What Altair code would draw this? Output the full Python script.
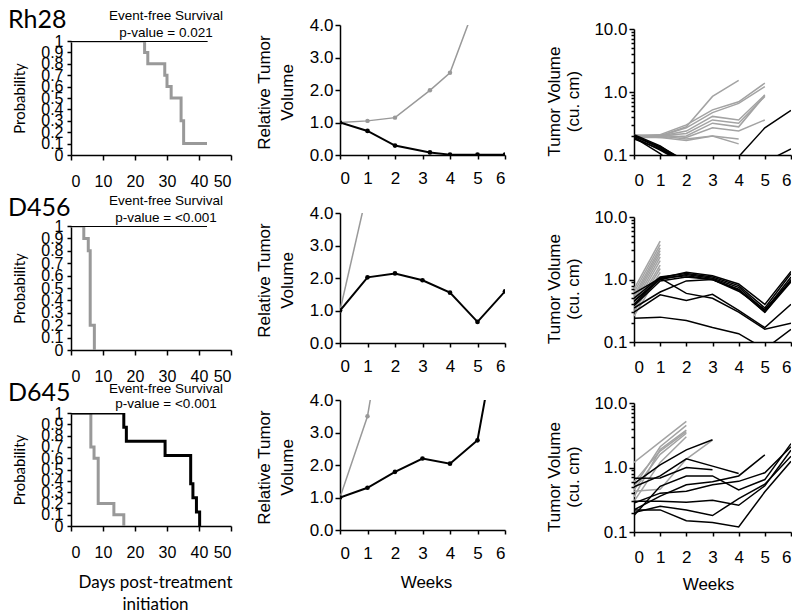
import altair as alt
import pandas as pd

SANS = "Liberation Sans"
HUMAN = "Lato"
GRAY = "#999999"
LGRAY = "#a3a3a3"

MODELS = ["Rh28", "D456", "D645"]
KM_TITLE = "Event-free Survival"
P_VALUES = ["p-value = 0.021", "p-value = <0.001", "p-value = <0.001"]
KM_X_TITLE = ["Days post-treatment", "initiation"]
KM_Y_TITLE = "Probability"
REL_Y_TITLE = ["Relative Tumor", "Volume"]
VOL_Y_TITLE = ["Tumor Volume", "(cu. cm)"]
WEEKS_TITLE = "Weeks"

KM_X_TICKS = [0, 10, 20, 30, 40, 50]
KM_Y_TICKS = [0, 0.1, 0.2, 0.3, 0.4, 0.5, 0.6, 0.7, 0.8, 0.9, 1]
WEEK_TICKS = [0, 1, 2, 3, 4, 5, 6]
REL_Y_TICKS = [0, 1, 2, 3, 4]
VOL_Y_TICKS = [0.1, 0.2, 0.3, 0.4, 0.5, 0.6, 0.7, 0.8, 0.9,
               1, 2, 3, 4, 5, 6, 7, 8, 9, 10]

KM_CTRL_DAYS = [
    [0, 23, 24, 29.3, 30, 31.3, 34.4, 35.2, 42.5],
    [0, 4, 5.4, 6.0, 7.3],
    [0, 6.2, 7.2, 8.5, 13.4, 16.5],
]
KM_CTRL_PROB = [
    [1, 0.9, 0.8, 0.7, 0.6, 0.5, 0.3, 0.1, 0.1],
    [1, 0.9, 0.8, 0.2, 0],
    [1, 0.7, 0.6, 0.2, 0.1, 0],
]
KM_TRT_DAYS = [
    [0, 42.7],
    [0, 42.5],
    [0, 16.5, 17.3, 29.4, 37.4, 38.1, 39.2, 40.2],
]
KM_TRT_PROB = [
    [1, 1],
    [1, 1],
    [1, 0.875, 0.75, 0.625, 0.375, 0.25, 0.125, 0],
]

REL_CTRL_WEEKS = [[0, 1, 2, 3.27, 4, 5], [0, 1], [0, 1, 2]]
REL_CTRL = [[1.0, 1.05, 1.15, 1.99, 2.53, 4.8], [1.0, 4.7], [1.0, 3.5, 8.5]]
REL_TRT_WEEKS = [[0, 1, 2, 3.27, 4, 5, 6], [0, 1, 2, 3, 4, 5, 6], [0, 1, 2, 3, 4, 5, 6]]
REL_TRT = [
    [1.0, 0.74, 0.29, 0.08, 0.01, 0.01, 0.01],
    [1.0, 2.02, 2.14, 1.93, 1.55, 0.65, 1.59],
    [1.0, 1.30, 1.79, 2.20, 2.04, 2.76, 7.4],
]

RH28_CTRL = [
    [0.20, 0.20, 0.28, 0.85, 1.53],
    [0.20, 0.21, 0.30, 0.52, 0.70, 1.38],
    [0.20, 0.20, 0.27, 0.47, 0.66, 1.22],
    [0.21, 0.20, 0.24, 0.41, 0.36, 0.90],
    [0.20, 0.20, 0.22, 0.36, 0.32, 0.85],
    [0.19, 0.19, 0.20, 0.32, 0.28, 0.88],
    [0.20, 0.21, 0.19, 0.27, 0.24, 0.36],
    [0.20, 0.19, 0.17, 0.20, 0.15],
    [0.20, 0.20, 0.18, 0.20, 0.18],
]
RH28_TRT = [
    [0.21, 0.14, 0.075],
    [0.20, 0.13, 0.07],
    [0.20, 0.13, 0.075, 0.05, 0.094, 0.27, 0.51],
    [0.19, 0.12, 0.07, 0.05, 0.05, 0.077, 0.125],
    [0.18, 0.125, 0.07],
    [0.19, 0.105, 0.05],
    [0.20, 0.135, 0.08],
]
D456_CTRL = [
    [0.26, 1.3], [0.30, 1.5], [0.33, 1.7], [0.36, 2.0], [0.40, 2.3],
    [0.45, 2.6], [0.50, 2.9], [0.55, 3.2], [0.62, 3.6], [0.70, 4.1],
]
D456_TRT = [
    [0.60, 1.05, 1.30, 1.15, 0.85, 0.40, 1.35],
    [0.50, 1.10, 1.25, 1.10, 0.80, 0.35, 1.25],
    [0.45, 1.00, 1.20, 1.05, 0.75, 0.32, 1.10],
    [0.40, 1.05, 1.15, 1.00, 0.70, 0.30, 1.00],
    [0.38, 0.95, 1.10, 1.00, 0.68, 0.30, 0.92],
    [0.35, 0.63, 0.95, 1.00, 0.65, 0.33, 0.95],
    [0.45, 1.05, 0.60, 0.50, 0.30, 0.16, 0.20],
    [0.30, 0.57, 0.46, 0.58, 0.32, 0.17, 0.40],
    [0.24, 0.25, 0.22, 0.17, 0.136, 0.077, 0.16],
]
D645_CTRL = [
    [1.2, 2.5, 5.2],
    [0.5, 2.1, 4.5],
    [0.35, 1.9, 3.8],
    [0.45, 1.6, 3.4],
    [0.3, 1.2, 3.0],
    [0.6, 1.8, 3.6],
    [0.43, 0.46, 1.35, 2.65],
]
D645_TRT = [
    [0.56, 1.1, 1.88, 2.7],
    [0.5, 0.74, 1.36, 1.05, 0.81],
    [0.68, 0.69, 1.0, 0.92],
    [0.22, 0.22, 0.15, 0.14, 0.12, 0.42, 1.25],
    [0.2, 0.25, 0.22, 0.18, 0.33, 0.55, 1.5],
    [0.3, 0.3, 0.29, 0.31, 0.26, 0.52, 1.85],
    [0.28, 0.4, 0.43, 0.54, 0.61, 0.83, 2.1],
    [0.18, 0.51, 0.74, 0.74, 0.45, 0.65, 2.35],
    [0.22, 0.36, 0.54, 0.6, 0.74, 1.57],
]
VOL_CTRL = [RH28_CTRL, D456_CTRL, D645_CTRL]
VOL_TRT = [RH28_TRT, D456_TRT, D645_TRT]

KM_HEIGHTS = [114, 124, 113]
KM_W = 160
REL_H = 130
REL_W = 165
VOL_HEIGHTS = [126, 125, 129]
VOL_W = 157
NAME_Y = [-33, -30, -32]
KM_T1_Y = [-21, -21, -20]
KM_T2_Y = [-4, -4, -5]
MANY = 100   # tick count high enough that explicit tick values are never thinned
TICK_FS = 17


def text_layer(txt, x, y, **kw):
    return alt.Chart(pd.DataFrame({"t": [txt]})).mark_text(**kw).encode(
        text="t:N", x=alt.value(x), y=alt.value(y))


def km_panel(i):
    h = KM_HEIGHTS[i]
    ctrl = pd.DataFrame({"day": KM_CTRL_DAYS[i], "prob": KM_CTRL_PROB[i]})
    trt = pd.DataFrame({"day": KM_TRT_DAYS[i], "prob": KM_TRT_PROB[i]})
    xkw = dict(values=KM_X_TICKS, tickCount=MANY, format="d", tickSize=5,
               labelPadding=13, labelFontSize=16, labelOverlap=False)
    if i == 2:
        xkw.update(title=KM_X_TITLE, titleFont=HUMAN, titleFontSize=17,
                   titleFontWeight="normal", titleLineHeight=22,
                   titleBaseline="middle", titleAlign="center",
                   titleX=84, titleY=56)
    else:
        xkw.update(title=None)
    x = alt.X("day:Q", scale=alt.Scale(domain=[0, 50], nice=False),
              axis=alt.Axis(**xkw))
    y = alt.Y("prob:Q", scale=alt.Scale(domain=[0, 1], nice=False),
              axis=alt.Axis(values=KM_Y_TICKS, tickCount=MANY, labelOverlap=False,
                            labelExpr="datum.value == 0 ? '0' : datum.value == 1 ? '1' : format(datum.value, '.1f')",
                            labelFontSize=16, tickSize=4, labelPadding=4,
                            title=KM_Y_TITLE, titleFont=HUMAN, titleFontSize=15,
                            titleFontWeight="normal", titleAngle=270,
                            titleBaseline="middle", titleAlign="center",
                            titleX=-52, titleY=h / 2))
    gray = alt.Chart(ctrl).mark_line(interpolate="step-after", color=GRAY,
                                     strokeWidth=3, clip=True).encode(x=x, y=y)
    black = alt.Chart(trt).mark_line(interpolate="step-after", color="black",
                                      strokeWidth=3 if i == 2 else 2,
                                      clip=True).encode(x="day:Q", y="prob:Q")
    name = text_layer(MODELS[i], -63, NAME_Y[i], align="left", baseline="top",
                      font=HUMAN, fontSize=25)
    t1 = text_layer(KM_TITLE, 95, KM_T1_Y[i], align="center", baseline="alphabetic",
                    font=SANS, fontSize=13.5)
    t2 = text_layer(P_VALUES[i], 95, KM_T2_Y[i], align="center", baseline="alphabetic",
                    font=SANS, fontSize=13.5)
    return alt.layer(gray, black, name, t1, t2).properties(width=KM_W, height=h)


def rel_panel(i):
    ctrl = pd.DataFrame({"week": REL_CTRL_WEEKS[i], "rel": REL_CTRL[i]})
    trt = pd.DataFrame({"week": REL_TRT_WEEKS[i], "rel": REL_TRT[i]})
    xkw = dict(values=WEEK_TICKS, tickCount=MANY, format="d", tickSize=4,
               labelPadding=11, labelFontSize=TICK_FS, labelOverlap=False)
    if i == 2:
        xkw.update(title=WEEKS_TITLE, titleFont=SANS, titleFontSize=17,
                   titleFontWeight="normal", titleBaseline="middle",
                   titleAlign="center", titleX=86, titleY=52)
    else:
        xkw.update(title=None)
    x = alt.X("week:Q", scale=alt.Scale(domain=[0, 6], nice=False),
              axis=alt.Axis(**xkw))
    y = alt.Y("rel:Q", scale=alt.Scale(domain=[0, 4], nice=False),
              axis=alt.Axis(values=REL_Y_TICKS, tickCount=MANY, format=".1f", tickSize=5,
                            labelPadding=2, labelFontSize=TICK_FS, labelOverlap=False,
                            title=REL_Y_TITLE, titleFont=SANS, titleFontSize=17,
                            titleFontWeight="normal", titleAngle=270,
                            titleBaseline="middle", titleAlign="center",
                            titleLineHeight=23, titleX=-76, titleY=REL_H / 2 + 2))
    gl = alt.Chart(ctrl).mark_line(color=GRAY, strokeWidth=1.5, clip=True).encode(x=x, y=y)
    gp = alt.Chart(ctrl).mark_circle(color=GRAY, size=20, opacity=1, clip=True).encode(x="week:Q", y="rel:Q")
    bl = alt.Chart(trt).mark_line(color="black", strokeWidth=2, clip=True).encode(x="week:Q", y="rel:Q")
    bp = alt.Chart(trt).mark_circle(color="black", size=22, opacity=1, clip=True).encode(x="week:Q", y="rel:Q")
    return alt.layer(gl, gp, bl, bp).properties(width=REL_W, height=REL_H)


def long_df(series):
    rows = []
    for j, s in enumerate(series):
        for k, v in enumerate(s):
            rows.append({"id": j, "week": k, "vol": v})
    return pd.DataFrame(rows)


def vol_panel(i):
    h = VOL_HEIGHTS[i]
    major = "datum.value == 0.1 || datum.value == 1 || datum.value == 10"
    xkw = dict(values=WEEK_TICKS, tickCount=MANY, format="d", tickSize=4,
               labelPadding=13, labelFontSize=TICK_FS, labelOverlap=False)
    if i == 2:
        xkw.update(title=WEEKS_TITLE, titleFont=SANS, titleFontSize=17,
                   titleFontWeight="normal", titleBaseline="middle",
                   titleAlign="center", titleX=74, titleY=52)
    else:
        xkw.update(title=None)
    x = alt.X("week:Q", scale=alt.Scale(domain=[0, 6], nice=False),
              axis=alt.Axis(**xkw))
    y = alt.Y("vol:Q", scale=alt.Scale(type="log", domain=[0.1, 10], nice=False),
              axis=alt.Axis(values=VOL_Y_TICKS, tickCount=MANY, labelOverlap=False,
                            labelExpr="(" + major + ") ? format(datum.value, '.1f') : ''",
                            tickSize={"condition": {"test": major, "value": 5}, "value": 3},
                            labelPadding=2, labelFontSize=TICK_FS,
                            title=VOL_Y_TITLE, titleFont=SANS, titleFontSize=17,
                            titleFontWeight="normal", titleAngle=270,
                            titleBaseline="middle", titleAlign="center",
                            titleLineHeight=19, titleX=-80, titleY=h / 2 + 9))
    gl = alt.Chart(long_df(VOL_CTRL[i])).mark_line(color=LGRAY, strokeWidth=1.5, clip=True).encode(
        x=x, y=y, detail="id:N")
    bl = alt.Chart(long_df(VOL_TRT[i])).mark_line(color="black", strokeWidth=1.5, clip=True).encode(
        x="week:Q", y="vol:Q", detail="id:N")
    return alt.layer(gl, bl).properties(width=VOL_W, height=h)


def spacer(w, h):
    return alt.Chart(pd.DataFrame({"s": [0]})).mark_point(opacity=0).encode(
        x=alt.value(0), y=alt.value(0)).properties(width=w, height=h)


col_km = alt.vconcat(spacer(KM_W, 16), km_panel(0), spacer(KM_W, 71), km_panel(1),
                     spacer(KM_W, 63), km_panel(2), spacing=0, bounds="flush")
col_rel = alt.vconcat(rel_panel(0), spacer(REL_W, 58), rel_panel(1),
                      spacer(REL_W, 57), rel_panel(2), spacing=0, bounds="flush")
col_vol = alt.vconcat(spacer(VOL_W, 4), vol_panel(0), spacer(VOL_W, 62), vol_panel(1),
                      spacer(VOL_W, 61), vol_panel(2), spacing=0, bounds="flush")

# nested columns count as zero-width cells in a flush layout, so the
# spacer columns carry the column width plus the gap
chart = alt.hconcat(col_km, spacer(KM_W + 109, 1), col_rel, spacer(REL_W + 129, 1), col_vol,
                    spacing=0, bounds="flush").properties(padding=0).configure_view(
    stroke=None).configure_axis(
    grid=False, domainColor="black", domainWidth=1.5, tickColor="black",
    tickWidth=1.5, labelColor="black", labelFont=SANS, titleColor="black")

chart.save("out.html", embed_options={"renderer": "svg", "actions": False})
